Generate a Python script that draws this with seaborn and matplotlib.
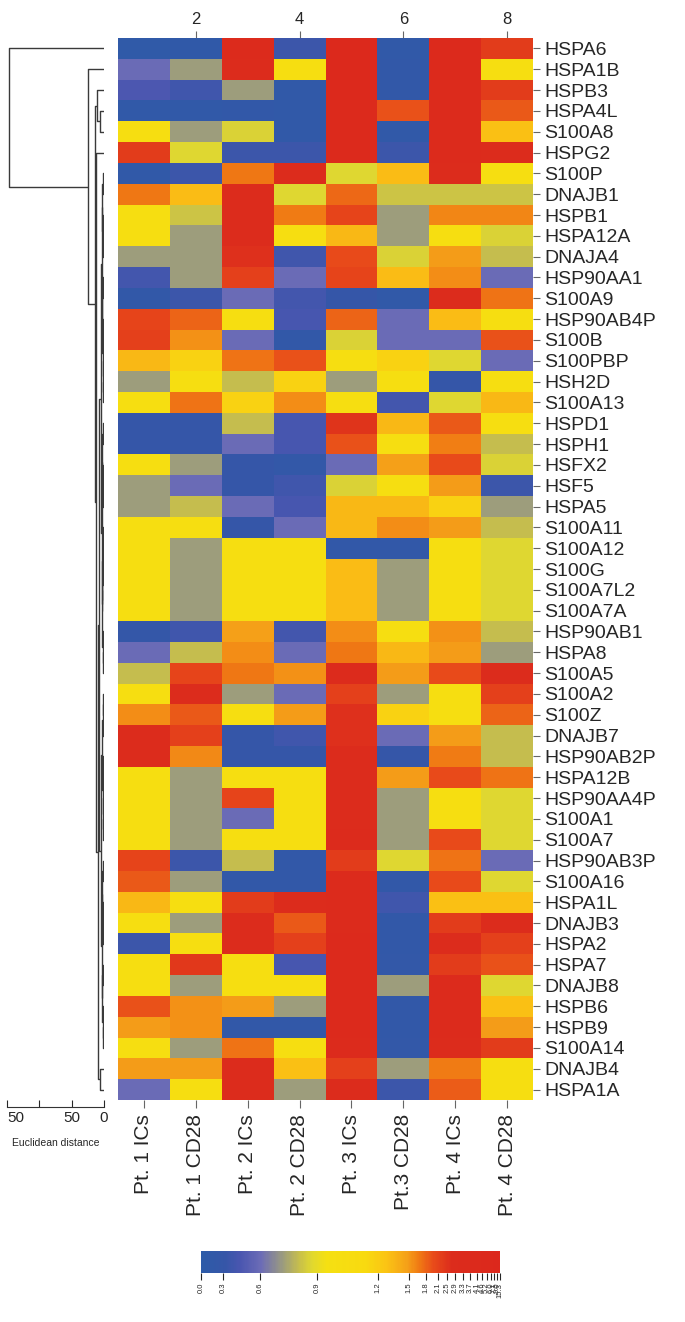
import numpy as np
import pandas as pd
import matplotlib
matplotlib.use("Agg")
import matplotlib.pyplot as plt
from matplotlib.colors import LinearSegmentedColormap, FuncNorm
from matplotlib.cm import ScalarMappable
import seaborn as sns

sns.set_style("white")
plt.rcParams["font.family"] = ["Liberation Sans", "DejaVu Sans"]

GENES = [
    "HSPA6", "HSPA1B", "HSPB3", "HSPA4L", "S100A8", "HSPG2", "S100P", "DNAJB1",
    "HSPB1", "HSPA12A", "DNAJA4", "HSP90AA1", "S100A9", "HSP90AB4P", "S100B",
    "S100PBP", "HSH2D", "S100A13", "HSPD1", "HSPH1", "HSFX2", "HSF5", "HSPA5",
    "S100A11", "S100A12", "S100G", "S100A7L2", "S100A7A", "HSP90AB1", "HSPA8",
    "S100A5", "S100A2", "S100Z", "DNAJB7", "HSP90AB2P", "HSPA12B", "HSP90AA4P",
    "S100A1", "S100A7", "HSP90AB3P", "S100A16", "HSPA1L", "DNAJB3", "HSPA2",
    "HSPA7", "DNAJB8", "HSPB6", "HSPB9", "S100A14", "DNAJB4", "HSPA1A",
]
SAMPLES = ["Pt. 1 ICs", "Pt. 1 CD28", "Pt. 2 ICs", "Pt. 2 CD28",
           "Pt. 3 ICs", "Pt.3 CD28", "Pt. 4 ICs", "Pt. 4 CD28"]

# fold change per gene (rows) and sample (columns)
FOLD_CHANGE = [
    [0.10, 0.12, 3.40, 0.35, 5.10, 0.15, 4.20, 2.30],
    [0.60, 0.72, 3.00, 1.00, 6.30, 0.20, 3.80, 1.00],
    [0.45, 0.38, 0.72, 0.15, 4.80, 0.18, 3.50, 2.30],
    [0.15, 0.15, 0.18, 0.16, 4.40, 1.95, 3.30, 1.90],
    [1.00, 0.72, 0.86, 0.16, 4.00, 0.15, 3.60, 1.30],
    [2.30, 0.87, 0.35, 0.35, 3.90, 0.35, 3.20, 3.00],
    [0.15, 0.35, 1.70, 2.80, 0.87, 1.33, 2.90, 1.00],
    [1.70, 1.33, 3.00, 0.87, 1.78, 0.82, 0.82, 0.82],
    [1.00, 0.82, 2.90, 1.68, 2.10, 0.72, 1.62, 1.62],
    [1.00, 0.72, 2.80, 1.00, 1.35, 0.72, 1.00, 0.86],
    [0.72, 0.72, 2.60, 0.38, 2.00, 0.86, 1.50, 0.80],
    [0.40, 0.72, 2.20, 0.60, 2.10, 1.33, 1.57, 0.60],
    [0.18, 0.35, 0.60, 0.40, 0.30, 0.16, 2.90, 1.72],
    [2.10, 1.80, 1.00, 0.42, 1.80, 0.60, 1.33, 1.00],
    [2.20, 1.55, 0.60, 0.20, 0.86, 0.60, 0.60, 1.95],
    [1.35, 1.18, 1.72, 1.95, 1.00, 1.18, 0.87, 0.60],
    [0.72, 1.00, 0.80, 1.18, 0.72, 1.00, 0.30, 1.00],
    [1.00, 1.72, 1.18, 1.57, 1.00, 0.40, 0.87, 1.35],
    [0.30, 0.30, 0.80, 0.42, 2.50, 1.35, 1.90, 1.00],
    [0.30, 0.30, 0.60, 0.42, 1.95, 1.00, 1.65, 0.80],
    [1.00, 0.72, 0.30, 0.22, 0.60, 1.48, 2.00, 0.86],
    [0.72, 0.60, 0.30, 0.38, 0.86, 1.00, 1.50, 0.35],
    [0.72, 0.80, 0.60, 0.42, 1.35, 1.35, 1.18, 0.72],
    [1.00, 1.00, 0.30, 0.60, 1.35, 1.57, 1.50, 0.80],
    [1.00, 0.72, 1.00, 1.00, 0.20, 0.20, 1.00, 0.87],
    [1.00, 0.72, 1.00, 1.00, 1.33, 0.72, 1.00, 0.87],
    [1.00, 0.72, 1.00, 1.00, 1.33, 0.72, 1.00, 0.87],
    [1.00, 0.72, 1.00, 1.00, 1.33, 0.72, 1.00, 0.87],
    [0.25, 0.38, 1.48, 0.40, 1.57, 1.00, 1.55, 0.80],
    [0.60, 0.80, 1.58, 0.60, 1.70, 1.35, 1.50, 0.72],
    [0.80, 2.10, 1.70, 1.55, 3.20, 1.50, 2.00, 2.80],
    [1.00, 2.70, 0.72, 0.60, 2.20, 0.72, 1.00, 2.20],
    [1.57, 1.90, 1.00, 1.50, 2.60, 1.18, 1.00, 1.80],
    [2.70, 2.20, 0.30, 0.38, 2.60, 0.60, 1.50, 0.80],
    [2.70, 1.60, 0.30, 0.30, 2.80, 0.30, 1.68, 0.80],
    [1.00, 0.72, 1.00, 1.00, 3.00, 1.50, 2.00, 1.72],
    [1.00, 0.72, 2.10, 1.00, 3.00, 0.72, 1.00, 0.87],
    [1.00, 0.72, 0.60, 1.00, 3.00, 0.72, 1.00, 0.87],
    [1.00, 0.72, 1.00, 1.00, 3.10, 0.72, 2.00, 0.87],
    [2.10, 0.35, 0.80, 0.20, 2.30, 0.87, 1.72, 0.60],
    [1.90, 0.72, 0.20, 0.20, 3.20, 0.20, 2.00, 0.87],
    [1.35, 1.00, 2.30, 2.80, 3.50, 0.38, 1.30, 1.30],
    [1.00, 0.72, 2.80, 1.90, 3.60, 0.20, 2.30, 2.80],
    [0.35, 1.00, 2.70, 2.20, 3.80, 0.20, 2.80, 2.20],
    [1.00, 2.40, 1.00, 0.42, 3.90, 0.22, 2.30, 1.95],
    [1.00, 0.72, 1.00, 1.00, 4.00, 0.72, 3.10, 0.87],
    [1.95, 1.55, 1.50, 0.72, 4.10, 0.20, 3.30, 1.30],
    [1.50, 1.55, 0.20, 0.20, 3.80, 0.20, 3.40, 1.50],
    [1.00, 0.72, 1.72, 1.00, 3.40, 0.22, 3.00, 2.30],
    [1.50, 1.50, 2.80, 1.30, 2.20, 0.72, 1.68, 1.00],
    [0.60, 1.00, 2.90, 0.72, 3.00, 0.35, 1.85, 1.00],
]

# colour key: tick values and where each sits along the bar (the key is not linear)
CBAR_TICKS = [0.0, 0.3, 0.6, 0.9, 1.2, 1.5, 1.8, 2.1, 2.5, 2.9, 3.3, 3.7,
              4.1, 4.6, 5.2, 6.0, 7.1, 9.0, 15.3]
CBAR_POS = [0.0, 0.075, 0.198, 0.388, 0.591, 0.695, 0.752, 0.792, 0.823,
            0.851, 0.877, 0.901, 0.924, 0.940, 0.955, 0.969, 0.980, 0.991, 1.0]
CBAR_LABELS = [f"{t:.1f}" for t in CBAR_TICKS]

CMAP_STOPS = [
    (0.00, "#2d5ba8"), (0.08, "#3656a8"), (0.13, "#4a56b0"), (0.20, "#6c6cb6"),
    (0.27, "#9a9a80"), (0.33, "#c8c04a"), (0.37, "#e0d830"), (0.42, "#f5e012"),
    (0.55, "#f8da10"), (0.62, "#fbc414"), (0.69, "#f5a018"), (0.73, "#f07a14"),
    (0.78, "#e84a1a"), (0.84, "#dc2c1c"), (1.00, "#dc281c"),
]

# row dendrogram: (merge height, left, right); ints are row indices
DENDRO_TREE = (147.0, 0, (24.7, 1, (13.9,
    (10.8, 2, (6.2, 3, 4)),
    (11.6, 5, (10.0,
        (8.5,
            (5.0,
                (3.2, (2.4, (1.2, 6, 7), (1.5, 8, (0.9, 9, 10))),
                      (2.8, (1.4, 11, 12), (2.0, (1.1, 13, 14), (1.6, 15, (0.8, 16, 17))))),
                (3.6, (2.6, (1.3, 18, 19), (1.8, (0.9, 20, 21), 22)),
                      (3.0, (2.2, (1.0, 23, 24), (0.7, 25, (0.4, 26, 27))),
                            (1.9, 28, (1.2, 29, 30))))),
            (4.5,
                (2.9, (1.7, (1.1, 31, 32), 33),
                      (2.1, (1.0, 34, 35), (1.4, 36, (0.8, 37, 38)))),
                (3.3, (2.5, (1.3, 39, 40), (1.6, 41, (1.0, 42, 43))),
                      (2.7, (1.2, 44, 45), (1.8, 46, (1.1, 47, 48)))))),
        (6.2, 49, 50))))))
DIST_TICKS = [150, 100, 50, 0]
DIST_LABELS = ["50", "", "50", "0"]

W, H = 685, 1322


def px_axes(fig, x0, y0, x1, y1):
    return fig.add_axes([x0 / W, 1 - y1 / H, (x1 - x0) / W, (y1 - y0) / H])


def draw_node(ax, node):
    if isinstance(node, int):
        return 0.0, node + 0.5
    h, left, right = node
    hl, yl = draw_node(ax, left)
    hr, yr = draw_node(ax, right)
    ax.plot([hl, h, h, hr], [yl, yl, yr, yr], color="#3a3a3a", lw=1.0,
            solid_capstyle="butt")
    return h, (yl + yr) / 2


def forward(x):
    return np.interp(x, CBAR_TICKS, CBAR_POS)


def inverse(x):
    return np.interp(x, CBAR_POS, CBAR_TICKS)


cmap = LinearSegmentedColormap.from_list("fc", CMAP_STOPS)
norm = FuncNorm((forward, inverse), vmin=CBAR_TICKS[0], vmax=CBAR_TICKS[-1])

fig = plt.figure(figsize=(W / 100, H / 100), dpi=100)

# heatmap
df = pd.DataFrame(FOLD_CHANGE, index=GENES, columns=SAMPLES)
ax = px_axes(fig, 118, 38, 533, 1100)
sns.heatmap(df, ax=ax, cmap=cmap, norm=norm, cbar=False,
            xticklabels=True, yticklabels=True)
ax.set_xlabel("")
ax.set_ylabel("")
ax.yaxis.tick_right()
ax.set_yticks(np.arange(len(GENES)) + 0.5, labels=GENES, rotation=0, fontsize=14)
ax.set_xticks(np.arange(len(SAMPLES)) + 0.5, labels=SAMPLES, rotation=90, fontsize=15)
ax.tick_params(axis="y", right=True, left=False, length=5, width=0.8,
               color="#666666", pad=3)
ax.tick_params(axis="x", bottom=True, length=6, width=0.8, color="#666666", pad=4)

top = ax.secondary_xaxis("top")
top.set_xticks([1.5, 3.5, 5.5, 7.5], labels=["2", "4", "6", "8"])
top.tick_params(length=5, width=0.8, color="#666666", labelsize=12, pad=3)
for s in top.spines.values():
    s.set_visible(False)

# dendrogram
axd = px_axes(fig, 7, 38, 104, 1100)
draw_node(axd, DENDRO_TREE)
axd.set_xlim(150, 0)
axd.set_ylim(len(GENES), 0)
axd.set_yticks([])
for side in ["left", "right", "top"]:
    axd.spines[side].set_visible(False)
axd.spines["bottom"].set_position(("outward", 5))
axd.spines["bottom"].set_color("#333333")
axd.spines["bottom"].set_linewidth(0.8)
axd.set_xticks(DIST_TICKS, labels=DIST_LABELS)
axd.tick_params(axis="x", bottom=True, direction="in", length=5, width=0.8,
                labelsize=11, pad=3)
# first label would be cut at the figure edge, so anchor it on its left
axd.get_xticklabels()[0].set_horizontalalignment("left")
axd.set_xlabel("Euclidean distance", fontsize=7.5, labelpad=9)
axd.patch.set_alpha(0)

# colour key
cax = px_axes(fig, 201, 1251, 500, 1273)
cb = fig.colorbar(ScalarMappable(norm=norm, cmap=cmap), cax=cax, orientation="horizontal")
cb.set_ticks(CBAR_TICKS, labels=CBAR_LABELS)
cb.outline.set_visible(False)
cax.tick_params(axis="x", length=5, width=0.8, labelsize=5.5, labelrotation=90, pad=2)

fig.savefig("out.png", dpi=100)
